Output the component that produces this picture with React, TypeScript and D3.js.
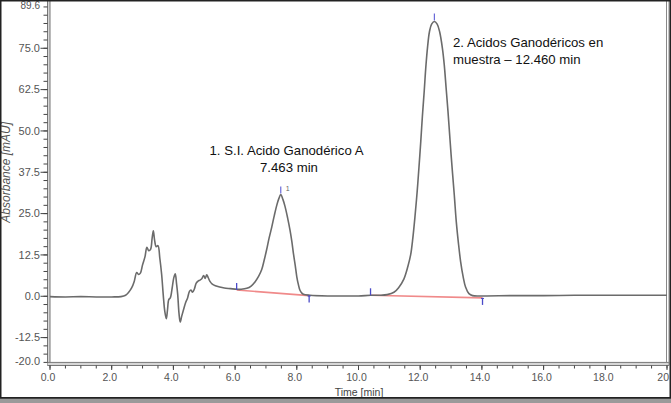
import React from "react";
import * as d3 from "d3";

// ---- data ----
const TIME = [
  0.0, 0.5, 1.0, 1.5, 2.0, 2.3, 2.45, 2.55, 2.65, 2.73, 2.81, 2.87, 2.93, 3.0, 3.08, 3.14, 3.2, 3.26,
  3.31, 3.35, 3.39, 3.44, 3.5, 3.56, 3.62, 3.67, 3.72, 3.77, 3.81, 3.85, 3.9, 3.96, 4.01, 4.06, 4.1,
  4.14, 4.18, 4.22, 4.27, 4.33, 4.4, 4.46, 4.52, 4.57, 4.62, 4.68, 4.74, 4.8, 4.86, 4.92, 4.98, 5.03,
  5.08, 5.13, 5.18, 5.26, 5.36, 5.5, 5.65, 5.85, 6.05, 6.2, 6.38, 6.52, 6.65, 6.76, 6.86, 6.94, 7.02,
  7.1, 7.19, 7.27, 7.35, 7.42, 7.48, 7.55, 7.62, 7.7, 7.78, 7.84, 7.89, 7.95, 8.0, 8.05, 8.1, 8.16,
  8.21, 8.43, 9.0, 9.5, 10.0, 10.4, 10.7, 10.93, 11.15, 11.3, 11.47, 11.6, 11.69, 11.76, 11.83, 11.9,
  11.96, 12.02, 12.07, 12.13, 12.18, 12.24, 12.3, 12.37, 12.46, 12.55, 12.63, 12.72, 12.78, 12.84,
  12.9, 12.95, 13.0, 13.05, 13.11, 13.17, 13.24, 13.31, 13.39, 13.47, 13.58, 13.7, 14.0, 15.0, 16.0,
  17.0, 18.0, 19.0, 20.0,
];
const ABSORBANCE = [
  -0.1, -0.2, -0.1, -0.2, -0.2, -0.1, 0.3, 1.2, 2.6, 4.5, 7.2, 6.6, 7.0, 9.5, 12.0, 14.8, 13.8, 14.2,
  17.5, 19.8, 17.0, 15.0, 15.3, 11.5, 6.5, 0.5, -4.5, -6.8, -4.0, -1.0, -0.5, 2.5, 5.5, 6.8, 4.0,
  0.5, -5.0, -7.8, -6.0, -4.0, -1.8, -0.5, 1.5, 1.9, 1.2, 2.2, 4.0, 4.6, 4.9, 5.3, 6.3, 5.4,
  6.5, 5.6, 4.6, 3.7, 3.2, 2.8, 2.5, 2.3, 2.1, 2.1, 2.4, 3.1, 4.4, 6.0, 8.0, 10.8, 14.0,
  17.5, 21.0, 24.4, 27.5, 29.6, 30.8, 29.3, 27.1, 23.8, 20.0, 16.5, 13.0, 9.3, 5.9, 3.6, 1.9, 1.0,
  0.6, 0.3, 0.1, 0.1, 0.1, 0.3, 0.3, 0.5, 1.2, 2.6, 5.2, 9.0, 12.5, 17.5, 24.0, 31.5,
  39.0, 47.0, 54.3, 62.0, 69.0, 75.5, 80.0, 82.3, 83.1, 82.3, 80.0, 75.0, 70.0, 63.0,
  56.0, 49.5, 43.0, 37.0, 30.0, 22.5, 16.0, 10.5, 6.0, 2.8, 0.8, 0.2, 0.1, 0.2, 0.2,
  0.3, 0.3, 0.3, 0.3,
];

// integration baselines: start / end time and value
const PEAK_START_T = [6.05, 10.39];
const PEAK_START_V = [1.9, 0.3];
const PEAK_END_T = [8.4, 14.02];
const PEAK_END_V = [0.2, -0.5];
const PEAK_APEX_T = [7.48, 12.46];
const PEAK_APEX_V = [30.8, 83.1];

const Y_TICKS = [-12.5, 0, 12.5, 25, 37.5, 50, 62.5, 75];
const Y_MINOR = d3.range(-20, 89.6, 2.5);
const X_TICKS = [0, 2, 4, 6, 8, 10, 12, 14, 16, 18];
const X_LAST = 20;
const X_MINOR = d3.range(0, 20.01, 0.5);

const W = 671;
const H = 403;

export default function App() {
  const x = d3.scaleLinear().domain([0, 20]).range([50, 667]);
  const y = d3.scaleLinear().domain([-20, 89.6]).range([362.4, 0]);

  const pts: [number, number][] = TIME.map((t, i) => [t, ABSORBANCE[i]]);
  const line = d3
    .line<[number, number]>()
    .x((d) => x(d[0]))
    .y((d) => y(d[1]))
    .curve(d3.curveCatmullRom.alpha(0.5));

  const tickFont = "'Liberation Sans', Arial, sans-serif";
  const axisCol = "#444";

  return (
    <svg
      width={W}
      height={H}
      style={{ position: "absolute", left: 0, top: 0, background: "#fff" }}
      fontFamily={tickFont}
    >
      <defs>
        <clipPath id="plotclip">
          <rect x={50} y={0} width={617} height={362.4} />
        </clipPath>
      </defs>
      <rect x={0} y={0} width={W} height={H} fill="#fff" />

      {/* axis frames (double lines) */}
      <rect x={47.5} y={0} width={2.5} height={365.5} fill="#d6d6d6" />
      <line x1={47.5} x2={47.5} y1={0} y2={365.5} stroke="#777" strokeWidth={1} />
      <line x1={50} x2={50} y1={0} y2={362.4} stroke="#777" strokeWidth={1} />
      <rect x={47.5} y={362.4} width={622} height={3} fill="#d6d6d6" />
      <line x1={47.5} x2={669} y1={362.4} y2={362.4} stroke="#777" strokeWidth={1} />
      <line x1={47.5} x2={669} y1={365.5} y2={365.5} stroke="#777" strokeWidth={1} />
      <line x1={666.5} x2={666.5} y1={0} y2={362.4} stroke="#888" strokeWidth={1} />
      <line x1={669} x2={669} y1={0} y2={365.5} stroke="#888" strokeWidth={1} />

      {/* y ticks */}
      {Y_MINOR.map((v) => (
        <line key={"ym" + v} x1={43.5} x2={47.5} y1={y(v)} y2={y(v)} stroke={axisCol} strokeWidth={1} />
      ))}
      {Y_TICKS.map((v) => (
        <g key={"y" + v}>
          <line x1={40.5} x2={47.5} y1={y(v)} y2={y(v)} stroke={axisCol} strokeWidth={1} />
          <text x={40} y={y(v)} dy="0.35em" textAnchor="end" fontSize={11} fill="#555">
            {v.toFixed(1)}
          </text>
        </g>
      ))}
      <text x={40} y={y(-20)} dy="0.2em" textAnchor="end" fontSize={11} fill="#555">
        {(-20).toFixed(1)}
      </text>
      <text x={40} y={9} textAnchor="end" fontSize={10} fill="#555">
        {(89.6).toFixed(1)}
      </text>
      <text
        transform={`translate(10,${y(37.5)}) rotate(-90)`}
        textAnchor="middle"
        fontSize={12}
        fontStyle="italic"
        fill="#555"
      >
        Absorbance [mAU]
      </text>

      {/* x ticks */}
      {X_MINOR.map((v) => (
        <line key={"xm" + v} x1={x(v)} x2={x(v)} y1={365.5} y2={368.5} stroke={axisCol} strokeWidth={1} />
      ))}
      {X_TICKS.map((v) => (
        <g key={"x" + v}>
          <line x1={x(v)} x2={x(v)} y1={365.5} y2={370} stroke={axisCol} strokeWidth={1} />
          <text x={x(v) - 2} y={381} textAnchor="middle" fontSize={10.5} fill="#555">
            {v.toFixed(1)}
          </text>
        </g>
      ))}
      <line x1={x(X_LAST)} x2={x(X_LAST)} y1={365.5} y2={370} stroke={axisCol} strokeWidth={1} />
      <text x={669} y={381} textAnchor="end" fontSize={10.5} fill="#555">
        {String(X_LAST)}
      </text>
      <text x={359} y={396} textAnchor="middle" fontSize={10.5} fill="#444">
        Time [min]
      </text>

      {/* trace */}
      <g clipPath="url(#plotclip)">
        {PEAK_START_T.map((t, i) => (
          <line
            key={"bl" + i}
            x1={x(t)}
            y1={y(PEAK_START_V[i])}
            x2={x(PEAK_END_T[i])}
            y2={y(PEAK_END_V[i])}
            stroke="#f08a8a"
            strokeWidth={1.6}
          />
        ))}
        <path d={line(pts) || ""} fill="none" stroke="#6b6b6b" strokeWidth={1.6} />
      </g>

      {/* peak markers */}
      {PEAK_START_T.map((t, i) => (
        <line key={"ps" + i} x1={x(t)} x2={x(t)} y1={y(PEAK_START_V[i]) - 7} y2={y(PEAK_START_V[i])} stroke="#4a4ac8" strokeWidth={1.3} />
      ))}
      {PEAK_END_T.map((t, i) => (
        <g key={"pe" + i}>
          <line x1={x(t)} x2={x(t)} y1={y(PEAK_END_V[i])} y2={y(PEAK_END_V[i]) + 7} stroke="#4a4ac8" strokeWidth={1.3} />
          <line x1={x(t) - 1.5} x2={x(t) + 1.5} y1={y(PEAK_END_V[i]) + 0.5} y2={y(PEAK_END_V[i]) + 0.5} stroke="#4a4ac8" strokeWidth={1} />
        </g>
      ))}
      {PEAK_APEX_T.map((t, i) => (
        <line key={"pa" + i} x1={x(t)} x2={x(t)} y1={y(PEAK_APEX_V[i]) - 8} y2={y(PEAK_APEX_V[i]) - 1} stroke="#6a6ad8" strokeWidth={1.2} />
      ))}
      <text x={x(PEAK_APEX_T[0]) + 5} y={y(PEAK_APEX_V[0]) - 3} fontSize={7} fill="#666">
        1
      </text>

      {/* annotations */}
      <g fontFamily="'Liberation Sans', Arial, sans-serif" fontSize={13.2} fill="#111">
        <text x={286.5} y={155} textAnchor="middle">1. S.I. Acido Ganodérico A</text>
        <text x={289} y={171.5} textAnchor="middle">7.463 min</text>
        <text x={453} y={47}>2. Acidos Ganodéricos en</text>
        <text x={453} y={64}>muestra – 12.460 min</text>
      </g>

      {/* outer frame */}
      <rect x={0.75} y={0.75} width={669.5} height={397} fill="none" stroke="#222" strokeWidth={1.5} />
      <rect x={0} y={398} width={W} height={5} fill="#9a9a9a" />
      <line x1={0} x2={W} y1={398.5} y2={398.5} stroke="#444" strokeWidth={1} />
    </svg>
  );
}
